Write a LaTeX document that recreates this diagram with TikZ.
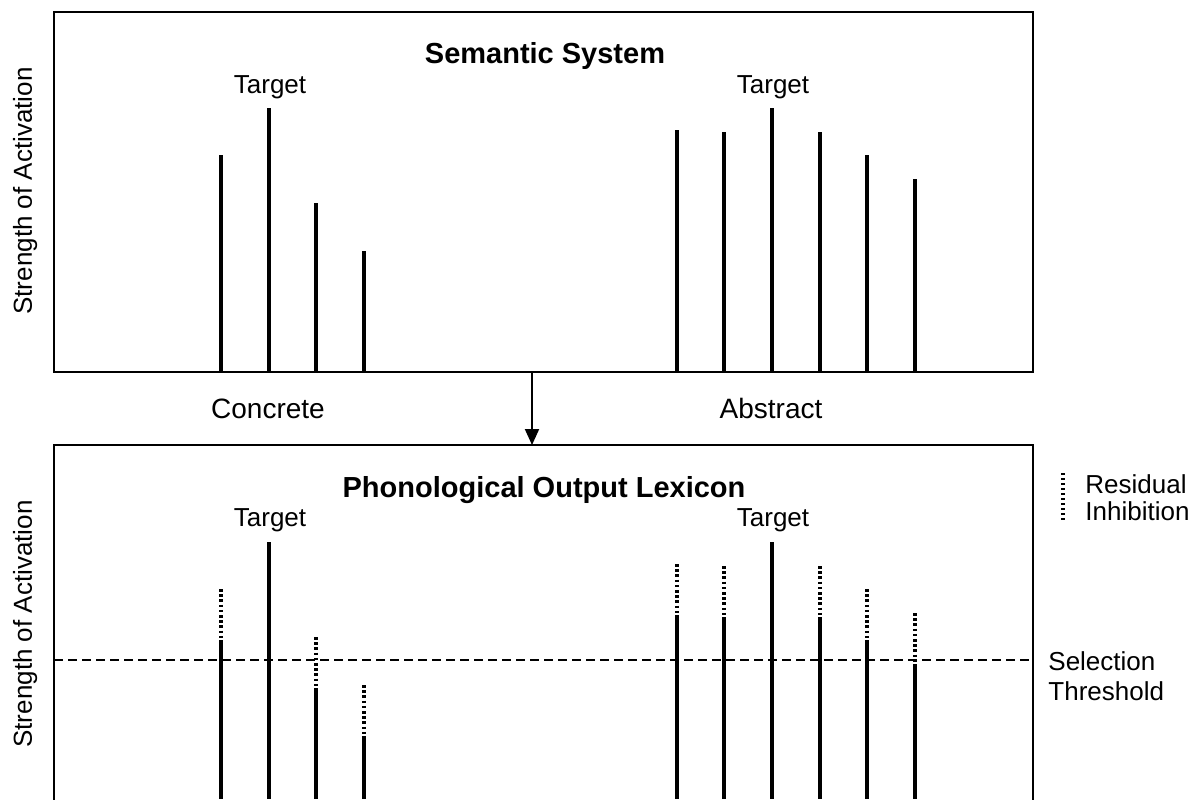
\documentclass[tikz,border=0pt]{standalone}
\usepackage{fontspec}
\setmainfont{Liberation Sans}
\usetikzlibrary{arrows.meta}
\begin{document}
\begin{tikzpicture}[x=0.5pt,y=-0.5pt,
  panel/.style={draw, line width=1.25pt, minimum width=489.5pt, minimum height=180pt, anchor=north west, inner sep=0pt, outer sep=0pt},
  bar/.style={line width=2.3pt},
  resid/.style={line width=2.4pt, dash pattern=on 1.3pt off 1.3pt},
  legmark/.style={line width=1.6pt, dash pattern=on 1.2pt off 1.3pt},
  thresh/.style={line width=1.3pt, dash pattern=on 4.5pt off 2.5pt},
  lbl/.style={font=\fontsize{13}{15}\selectfont, inner sep=0pt, anchor=base},
  side/.style={font=\fontsize{13}{15}\selectfont, inner sep=0pt, anchor=base west},
  cat/.style={font=\fontsize{14}{16}\selectfont, inner sep=0pt, anchor=base},
  ttl/.style={font=\bfseries\fontsize{14.5}{17}\selectfont, inner sep=0pt, anchor=base},
  axis/.style={lbl, rotate=90},
  flow/.style={line width=1pt, -{Triangle[length=8pt,width=7pt]}}]
\useasboundingbox (0,0) rectangle (1202,799);
\clip (0,0) rectangle (1202,799);

% panels
\node[panel] (sem) at (54,12) {};
\node[panel] (pol) at (54,445) {};

% top panel bars
\foreach \x/\t in {221/155,269/108,316/203,364/251,677/130,724/132,772/108,820/132,867/155,915/179}
  \draw[bar] (\x,372) -- (\x,\t);

% bottom panel bars: residual inhibition (dotted) above solid activation
\foreach \x/\t in {221/155,316/203,364/251,677/130,724/132,820/132,867/155,915/179}{
  \draw[resid] (\x,\t+434) -- (\x,\t+485);
  \draw[bar] (\x,\t+485) -- (\x,799);
}
\foreach \x in {269,772}
  \draw[bar] (\x,542) -- (\x,799);

% threshold
\coordinate (th) at (0,660);
\draw[thresh] (pol.west |- th) -- (pol.east |- th);

% connector
\coordinate (ax) at (532,0);
\draw[flow] (sem.south -| ax) -- (pol.north -| ax);

% texts top
\node[ttl] (semt) at (545,63) {Semantic System};
\node[lbl] (t1) at (270,93) {Target};
\node[lbl] (t2) at (773,93) {Target};
\node[axis] (ya) at (32,191) {Strength of Activation};
\node[cat] (conc) at (268,418) {Concrete};
\node[cat] (abst) at (771,418) {Abstract};

% texts bottom
\node[ttl] (polt) at (544,497) {Phonological Output Lexicon};
\node[lbl] (t3) at (270,526) {Target};
\node[lbl] (t4) at (773,526) {Target};
\node[axis] (yb) at (32,624) {Strength of Activation};

% legend
\draw[legmark] (1063,473) -- (1063,522);
\node[side] (res) at (1085,493) {Residual};
\node[side] (inh) at (1085,520) {Inhibition};
\node[side] (sel) at (1048,670) {Selection};
\node[side] (thr) at (1048,700) {Threshold};
\end{tikzpicture}
\end{document}
